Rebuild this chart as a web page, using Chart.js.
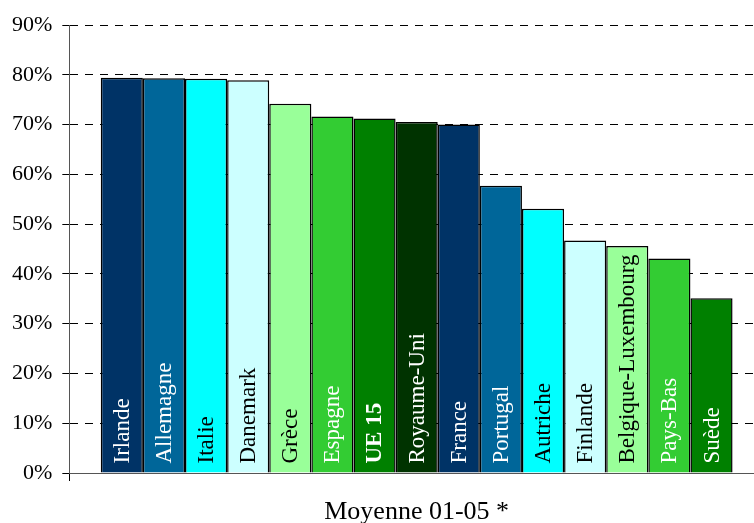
<!DOCTYPE html>
<html>
<head>
<meta charset="utf-8">
<script src="https://cdn.jsdelivr.net/npm/chart.js@4/dist/chart.umd.min.js"></script>
<style>
  html, body { margin:0; padding:0; background:#fff; overflow:hidden; }
  #wrap { width:765px; height:523px; }
</style>
</head>
<body>
<div id="wrap"><canvas id="c" width="765" height="523"></canvas></div>
<script>
// one category, one bar per country
const categories = ['Moyenne 01-05 *'];
const countries = ['Irlande','Allemagne','Italie','Danemark','Grèce','Espagne','UE 15','Royaume-Uni','France','Portugal','Autriche','Finlande','Belgique-Luxembourg','Pays-Bas','Suède'];
const values = [79.4, 79.3, 79.2, 78.9, 74.2, 71.6, 71.2, 70.5, 70.0, 57.7, 53.1, 46.7, 45.6, 43.1, 35.1];
const barColors = ['#003366','#006699','#00FFFF','#CCFFFF','#99FF99','#33CC33','#008000','#003300','#003366','#006699','#00FFFF','#CCFFFF','#99FF99','#33CC33','#008000'];
const labelColors = ['#fff','#fff','#000','#000','#000','#fff','#fff','#fff','#fff','#fff','#000','#000','#000','#fff','#fff'];
const yTicks = [0,10,20,30,40,50,60,70,80,90];

const FONT = '"Liberation Serif", "Times New Roman", serif';

const barLabels = {
  id:'barLabels',
  afterDatasetsDraw(chart){
    const ctx = chart.ctx;
    chart.data.datasets.forEach((ds, i) => {
      const bar = chart.getDatasetMeta(i).data[0];
      if (!bar) return;
      const p = bar.getProps(['x','y','base','width'], true);
      ctx.save();
      ctx.beginPath();
      ctx.rect(p.x - p.width/2 + 1.5, p.y + 1.5, p.width - 3, p.base - p.y - 3);
      ctx.clip();
      ctx.translate(p.x + 1, p.base - 9);
      ctx.rotate(-Math.PI/2);
      ctx.font = (ds.label === 'UE 15' ? 'bold ' : '') + '23px ' + FONT;
      ctx.fillStyle = labelColors[i];
      ctx.textAlign = 'left';
      ctx.textBaseline = 'middle';
      ctx.fillText(ds.label, 0, 0);
      ctx.restore();
    });
  }
};

const datasets = countries.map((name, i) => ({
  label: name,
  data: [values[i]],
  backgroundColor: barColors[i],
  borderColor: '#000',
  borderWidth: 1.5,
  borderSkipped: 'bottom',
  barPercentage: 1,
  categoryPercentage: 0.9095
}));

new Chart(document.getElementById('c').getContext('2d'), {
  type: 'bar',
  data: { labels: categories, datasets },
  options: {
    responsive: false,
    animation: false,
    layout: { padding: { left: 2, right: 1, top: 25, bottom: -20 } },
    plugins: { legend: { display:false }, tooltip: { enabled:false } },
    scales: {
      x: {
        grid: { drawOnChartArea:false, tickLength:8, color:'#000', lineWidth:1 },
        border: { color:'#555', width:1 },
        ticks: { color:'#000', padding:18, font: { family: FONT, size:26, lineHeight:1 } }
      },
      y: {
        min: 0, max: 90,
        afterBuildTicks(scale){ scale.ticks = yTicks.map(v => ({ value:v })); },
        grid: {
          color: c => c.tick && c.tick.value === 0 ? 'rgba(0,0,0,0)' : '#000',
          lineWidth: 1, tickLength: 7, tickColor:'#000'
        },
        border: { color:'#555', width:1, dash:[8,7] },
        ticks: { color:'#000', padding:10, font: { family: FONT, size:22 }, callback: v => v + '%' }
      }
    }
  },
  plugins: [barLabels]
});
</script>
</body>
</html>
